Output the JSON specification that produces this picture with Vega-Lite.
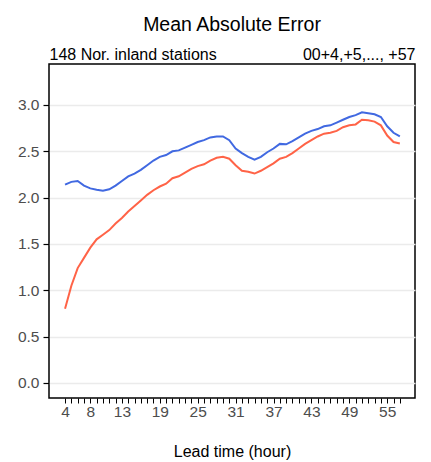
{
  "$schema": "https://vega.github.io/schema/vega-lite/v6.json",
  "autosize": {"type": "none"},
  "width": 366,
  "height": 334,
  "padding": {"left": 49, "top": 64, "right": 16, "bottom": 64},
  "background": "white",
  "config": {
    "font": "Liberation Sans",
    "view": {"stroke": "black", "strokeWidth": 1.5},
    "axis": {"labelFont": "Liberation Sans", "titleFont": "Liberation Sans"}
  },
  "title": {
    "text": "Mean Absolute Error",
    "fontSize": 19.5,
    "fontWeight": "normal",
    "color": "black",
    "anchor": "middle",
    "offset": 11
  },
  "data": {
    "values": [
      {"hour":4,"series":"A","mae":2.14},{"hour":5,"series":"A","mae":2.17},{"hour":6,"series":"A","mae":2.18},{"hour":7,"series":"A","mae":2.13},{"hour":8,"series":"A","mae":2.10},{"hour":9,"series":"A","mae":2.085},{"hour":10,"series":"A","mae":2.075},{"hour":11,"series":"A","mae":2.09},{"hour":12,"series":"A","mae":2.13},{"hour":13,"series":"A","mae":2.18},{"hour":14,"series":"A","mae":2.23},{"hour":15,"series":"A","mae":2.26},{"hour":16,"series":"A","mae":2.30},{"hour":17,"series":"A","mae":2.35},{"hour":18,"series":"A","mae":2.40},{"hour":19,"series":"A","mae":2.44},{"hour":20,"series":"A","mae":2.46},{"hour":21,"series":"A","mae":2.50},{"hour":22,"series":"A","mae":2.51},{"hour":23,"series":"A","mae":2.54},{"hour":24,"series":"A","mae":2.57},{"hour":25,"series":"A","mae":2.60},{"hour":26,"series":"A","mae":2.62},{"hour":27,"series":"A","mae":2.65},{"hour":28,"series":"A","mae":2.66},{"hour":29,"series":"A","mae":2.66},{"hour":30,"series":"A","mae":2.62},{"hour":31,"series":"A","mae":2.53},{"hour":32,"series":"A","mae":2.48},{"hour":33,"series":"A","mae":2.44},{"hour":34,"series":"A","mae":2.41},{"hour":35,"series":"A","mae":2.44},{"hour":36,"series":"A","mae":2.49},{"hour":37,"series":"A","mae":2.53},{"hour":38,"series":"A","mae":2.58},{"hour":39,"series":"A","mae":2.575},{"hour":40,"series":"A","mae":2.61},{"hour":41,"series":"A","mae":2.65},{"hour":42,"series":"A","mae":2.69},{"hour":43,"series":"A","mae":2.72},{"hour":44,"series":"A","mae":2.74},{"hour":45,"series":"A","mae":2.77},{"hour":46,"series":"A","mae":2.78},{"hour":47,"series":"A","mae":2.81},{"hour":48,"series":"A","mae":2.84},{"hour":49,"series":"A","mae":2.87},{"hour":50,"series":"A","mae":2.89},{"hour":51,"series":"A","mae":2.92},{"hour":52,"series":"A","mae":2.91},{"hour":53,"series":"A","mae":2.90},{"hour":54,"series":"A","mae":2.87},{"hour":55,"series":"A","mae":2.77},{"hour":56,"series":"A","mae":2.70},{"hour":57,"series":"A","mae":2.66},
      {"hour":4,"series":"B","mae":0.80},{"hour":5,"series":"B","mae":1.05},{"hour":6,"series":"B","mae":1.24},{"hour":7,"series":"B","mae":1.35},{"hour":8,"series":"B","mae":1.46},{"hour":9,"series":"B","mae":1.55},{"hour":10,"series":"B","mae":1.60},{"hour":11,"series":"B","mae":1.65},{"hour":12,"series":"B","mae":1.72},{"hour":13,"series":"B","mae":1.78},{"hour":14,"series":"B","mae":1.85},{"hour":15,"series":"B","mae":1.91},{"hour":16,"series":"B","mae":1.97},{"hour":17,"series":"B","mae":2.03},{"hour":18,"series":"B","mae":2.08},{"hour":19,"series":"B","mae":2.12},{"hour":20,"series":"B","mae":2.15},{"hour":21,"series":"B","mae":2.21},{"hour":22,"series":"B","mae":2.23},{"hour":23,"series":"B","mae":2.27},{"hour":24,"series":"B","mae":2.31},{"hour":25,"series":"B","mae":2.34},{"hour":26,"series":"B","mae":2.36},{"hour":27,"series":"B","mae":2.40},{"hour":28,"series":"B","mae":2.43},{"hour":29,"series":"B","mae":2.44},{"hour":30,"series":"B","mae":2.42},{"hour":31,"series":"B","mae":2.35},{"hour":32,"series":"B","mae":2.29},{"hour":33,"series":"B","mae":2.28},{"hour":34,"series":"B","mae":2.26},{"hour":35,"series":"B","mae":2.29},{"hour":36,"series":"B","mae":2.33},{"hour":37,"series":"B","mae":2.37},{"hour":38,"series":"B","mae":2.42},{"hour":39,"series":"B","mae":2.44},{"hour":40,"series":"B","mae":2.48},{"hour":41,"series":"B","mae":2.53},{"hour":42,"series":"B","mae":2.58},{"hour":43,"series":"B","mae":2.62},{"hour":44,"series":"B","mae":2.66},{"hour":45,"series":"B","mae":2.69},{"hour":46,"series":"B","mae":2.70},{"hour":47,"series":"B","mae":2.72},{"hour":48,"series":"B","mae":2.76},{"hour":49,"series":"B","mae":2.78},{"hour":50,"series":"B","mae":2.79},{"hour":51,"series":"B","mae":2.84},{"hour":52,"series":"B","mae":2.835},{"hour":53,"series":"B","mae":2.82},{"hour":54,"series":"B","mae":2.78},{"hour":55,"series":"B","mae":2.67},{"hour":56,"series":"B","mae":2.60},{"hour":57,"series":"B","mae":2.585}
    ]
  },
  "layer": [
    {
      "mark": {"type": "line", "strokeWidth": 2},
      "encoding": {
        "x": {
          "field": "hour",
          "type": "quantitative",
          "scale": {"domain": [1.46, 59.4], "nice": false, "zero": false},
          "axis": {
            "orient": "bottom",
            "title": "Lead time (hour)",
            "titleFontSize": 16,
            "titleFontWeight": "normal",
            "titleColor": "black",
            "titlePadding": 24,
            "values": [4,5,6,7,8,9,10,11,12,13,14,15,16,17,18,19,20,21,22,23,24,25,26,27,28,29,30,31,32,33,34,35,36,37,38,39,40,41,42,43,44,45,46,47,48,49,50,51,52,53,54,55,56,57],
            "labelExpr": "indexof([4,8,13,19,25,31,37,43,49,55], datum.value) >= 0 ? datum.label : ''",
            "labelFontSize": 15.5,
            "labelColor": "#4d4d4d",
            "labelPadding": 1,
            "labelFlush": false,
            "labelOverlap": false,
            "tickColor": "black",
            "tickSize": 5,
            "tickWidth": 1,
            "domain": false,
            "grid": false
          }
        },
        "y": {
          "field": "mae",
          "type": "quantitative",
          "scale": {"domain": [-0.162, 3.442], "nice": false, "zero": false},
          "axis": {
            "title": null,
            "values": [0, 0.5, 1, 1.5, 2, 2.5, 3],
            "format": ".1f",
            "labelFontSize": 15.5,
            "labelColor": "#4d4d4d",
            "labelPadding": 4,
            "tickColor": "black",
            "tickSize": 6,
            "tickWidth": 1.2,
            "domain": false,
            "grid": true,
            "gridColor": "#EBEBEB",
            "gridWidth": 1.5
          }
        },
        "color": {
          "field": "series",
          "type": "nominal",
          "scale": {"domain": ["A", "B"], "range": ["#4169E1", "#FF6347"]},
          "legend": null
        }
      }
    },
    {
      "mark": {"type": "point", "opacity": 0},
      "encoding": {
        "x": {
          "field": "hour",
          "type": "quantitative",
          "axis": {
            "orient": "top",
            "title": null,
            "values": [1.46, 59.4],
            "labelExpr": "datum.value < 30 ? '148 Nor. inland stations' : '00+4,+5,..., +57'",
            "labelFlush": true,
            "labelFontSize": 16,
            "labelColor": "black",
            "labelPadding": 2,
            "ticks": false,
            "domain": false,
            "grid": false
          }
        },
        "y": {"field": "mae", "type": "quantitative"}
      }
    }
  ],
  "resolve": {"axis": {"x": "independent"}}
}
